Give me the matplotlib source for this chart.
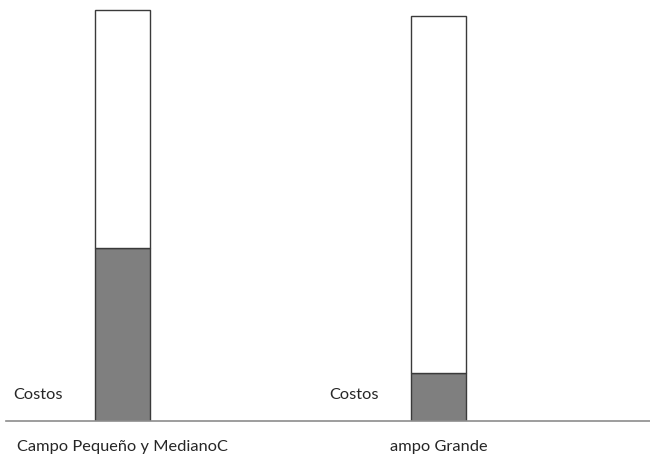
import matplotlib
matplotlib.use("Agg")
import matplotlib.pyplot as plt

categories = ["Campo Pequeño y MedianoC", "ampo Grande"]
costos = [173, 48]
resto = [238, 357]
series_label = "Costos"

plt.rcParams['font.family'] = ['Lato', 'DejaVu Sans']

fig = plt.figure(figsize=(6.5, 4.55), dpi=100)
ax = fig.add_axes([6/650, 34/455, 644/650, 421/455])
x = [0, 1]
w = 55/316
ax.bar(x, costos, width=w, color="#7f7f7f", edgecolor="#3a3a3a", linewidth=1.0)
ax.bar(x, resto, bottom=costos, width=w, color="white", edgecolor="#3a3a3a", linewidth=1.0)
ax.set_xlim(-116.5/316, (650-122.5)/316)
ax.set_ylim(0, 421)
for s in ["top", "right", "left"]:
    ax.spines[s].set_visible(False)
ax.spines["bottom"].set_color("#8c8c8c")
ax.spines["bottom"].set_linewidth(1.2)
ax.set_yticks([])
ax.set_xticks(x)
ax.set_xticklabels(categories, fontsize=11.8, color="#262626")
ax.tick_params(axis="x", length=0, pad=13.5)
for xi, dx in zip(x, [-84.5, -84.5]):
    ax.text(xi + dx/316, 26, series_label, ha="center", va="center", fontsize=11.8, color="#262626")
fig.savefig("out.png", dpi=100)
